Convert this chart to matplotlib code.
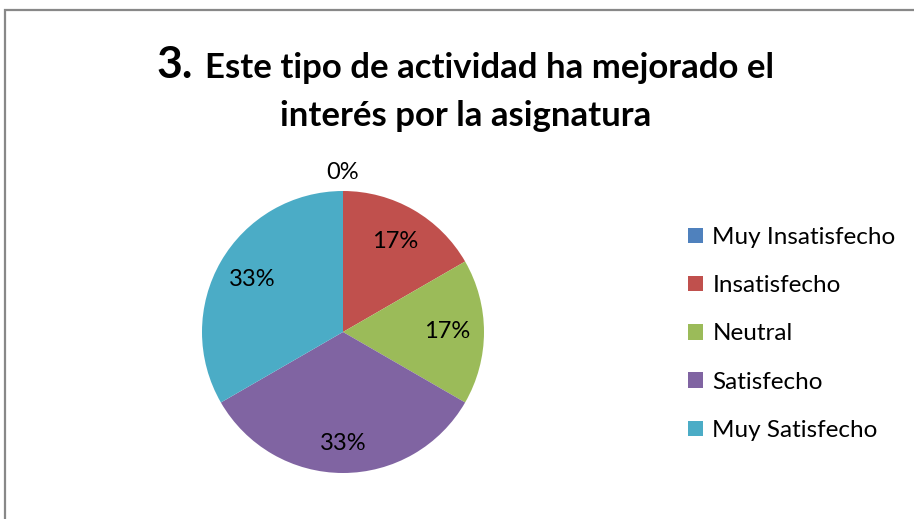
import matplotlib
matplotlib.use("Agg")
from matplotlib import pyplot as plt
from matplotlib.patches import Rectangle
import numpy as np

categories = ["Muy Insatisfecho", "Insatisfecho", "Neutral", "Satisfecho", "Muy Satisfecho"]
counts = [0, 1, 1, 2, 2]
pct_labels = ["0%", "17%", "17%", "33%", "33%"]
colors = ["#4F81BD", "#C0504D", "#9BBB59", "#8064A2", "#4BACC6"]

plt.rcParams['font.family'] = ['Lato', 'DejaVu Sans']

W, H = 914, 519
fig = plt.figure(figsize=(W / 100, H / 100), dpi=100)

# chart frame (cut off at right and bottom like the screenshot)
fig.patches.append(Rectangle((4.5 / W, -0.1), 1.2, 1.1 - 9.5 / H, transform=fig.transFigure,
                             fill=False, edgecolor="#888888", linewidth=1.6))

# pie axes: center (343, 332) px, radius 141 px
cx, cy, r = 343, 332, 141
ax = fig.add_axes([(cx - r) / W, (H - cy - r) / H, 2 * r / W, 2 * r / H])
wedges, _ = ax.pie(counts, colors=colors, startangle=90, counterclock=False,
                   radius=1, wedgeprops=dict(linewidth=0))
ax.set_xlim(-1, 1)
ax.set_ylim(-1, 1)
ax.set_aspect("equal")
ax.axis("off")

# data labels
total = sum(counts)
start = 90.0
for i, c in enumerate(counts):
    span = 360.0 * c / total
    mid = np.deg2rad(start - span / 2)
    dist = 0.74 if c > 0 else 1.13
    if c == 2 and i == 3:
        dist = 0.79
    ax.text(dist * np.cos(mid), dist * np.sin(mid), pct_labels[i], ha="center", va="center",
            fontsize=17, color="black")
    start -= span

# title
fig.text(156 / W, 1 - 78 / H, "3.", fontsize=32, fontweight="bold", ha="left", va="baseline")
fig.text(205 / W, 1 - 78 / H, "Este tipo de actividad ha mejorado el", fontsize=25,
         fontweight="bold", ha="left", va="baseline")
fig.text(466 / W, 1 - 126 / H, "interés por la asignatura", fontsize=25,
         fontweight="bold", ha="center", va="baseline")

# legend
fig.legend(wedges, categories, loc="upper left", bbox_to_anchor=(688 / W, 1 - 227 / H),
           frameon=False, fontsize=17.5, handlelength=0.6, handleheight=0.6,
           handletextpad=0.4, labelspacing=1.12, borderpad=0, borderaxespad=0)

fig.savefig("out.png", dpi=100)
